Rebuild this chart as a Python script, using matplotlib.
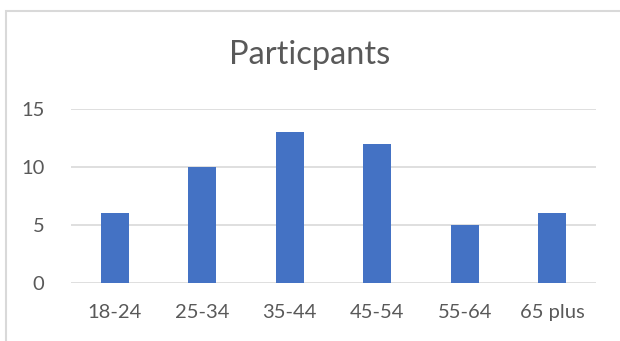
import matplotlib.pyplot as plt
from matplotlib.patches import Rectangle

age_groups = ['18-24', '25-34', '35-44', '45-54', '55-64', '65 plus']
participants = [6, 10, 13, 12, 5, 6]
y_ticks = [0, 5, 10, 15]

text_color = '#595959'
grid_color = '#D9D9D9'
bar_color = '#4472C4'

plt.rcParams['font.family'] = ['Lato', 'DejaVu Sans']

W, H = 620, 341
fig = plt.figure(figsize=(W / 100, H / 100), dpi=100)

# chart frame, left and top edges visible
fig.patches.append(Rectangle((5.5 / W, -0.1), 1.2, 1.1 - 10.5 / H,
                             transform=fig.transFigure, fill=False,
                             edgecolor=grid_color, linewidth=1.5))

ax = fig.add_axes([71 / W, 1 - 283 / H, (596 - 71) / W, (283 - 109) / H])
x = range(len(age_groups))
ax.bar(x, participants, width=0.32, color=bar_color, zorder=3)

ax.set_xlim(-0.5, len(age_groups) - 0.5)
ax.set_ylim(0, 15)
ax.set_yticks(y_ticks)
ax.set_xticks(list(x))
ax.set_xticklabels(age_groups)
ax.yaxis.grid(True, color=grid_color, linewidth=1.2, zorder=0)
ax.tick_params(length=0, labelsize=14.5, colors=text_color)
ax.tick_params(axis='x', pad=15)
ax.tick_params(axis='y', pad=19)
for s in ax.spines.values():
    s.set_visible(False)
ax.patch.set_alpha(0)

fig.text(0.5, 1 - 55 / H, 'Particpants', ha='center', va='center',
         fontsize=23.5, color=text_color)

fig.savefig('out.png', dpi=100)
